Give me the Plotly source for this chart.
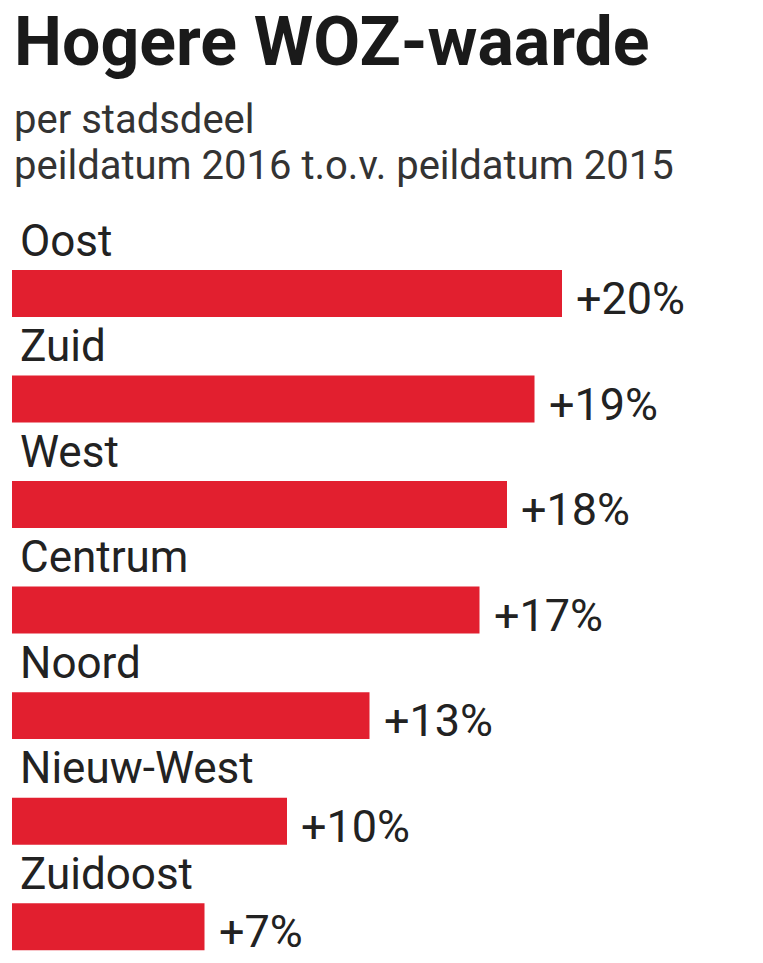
import plotly.graph_objects as go

categories = ["Oost", "Zuid", "West", "Centrum", "Noord", "Nieuw-West", "Zuidoost"]
values = [20, 19, 18, 17, 13, 10, 7]
labels = ["+20%", "+19%", "+18%", "+17%", "+13%", "+10%", "+7%"]

H = 963
T = 192
ph = H - T
top_page = T + 8
pos = list(range(len(categories)))

fig = go.Figure(go.Bar(
    x=values, y=pos, orientation="h", width=0.445,
    marker=dict(color="#e21f2f", line=dict(width=0)),
    cliponaxis=False,
))

for i, (c, v, lab) in enumerate(zip(categories, values, labels)):
    fig.add_annotation(x=0.2, y=i - 0.5, xref="x", yref="y", text=c, showarrow=False,
                       xanchor="left", yanchor="middle",
                       font=dict(family="Roboto", size=44, color="#222"))
    fig.add_annotation(x=v, y=i + 0.05, xref="x", yref="y", text=lab, showarrow=False,
                       xanchor="left", yanchor="middle", xshift=12,
                       font=dict(family="Roboto", size=45, color="#222"))

fig.add_annotation(x=0, y=1 + (top_page - 42) / ph, xref="paper", yref="paper",
                   text="<b>Hogere WOZ-waarde</b>", showarrow=False, xanchor="left", yanchor="middle",
                   font=dict(family="Roboto", size=68, color="#1a1a1a"))
fig.add_annotation(x=0.0, y=1 + (top_page - 120) / ph, xref="paper", yref="paper",
                   text="per stadsdeel", showarrow=False, xanchor="left", yanchor="middle",
                   font=dict(family="Roboto", size=40, color="#333"))
fig.add_annotation(x=0.0, y=1 + (top_page - 166) / ph, xref="paper", yref="paper",
                   text="peildatum 2016 t.o.v. peildatum 2015", showarrow=False, xanchor="left", yanchor="middle",
                   font=dict(family="Roboto", size=40, color="#333"))

fig.update_layout(
    width=763, height=H, margin=dict(l=4, r=0, t=T, b=0),
    paper_bgcolor="white", plot_bgcolor="white", showlegend=False,
    xaxis=dict(range=[0, 759 / 27.5], visible=False),
    yaxis=dict(range=[6.42, -0.886], visible=False),
)
fig.write_html("out.html")
